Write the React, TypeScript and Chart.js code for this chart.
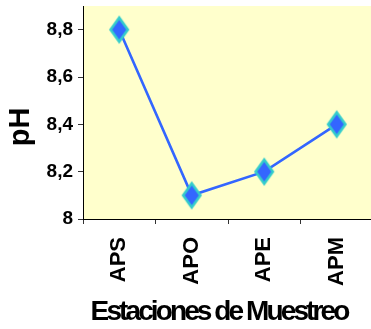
import React, { useEffect, useRef } from "react";
import { Chart, registerables } from "chart.js";

Chart.register(...registerables);

// Sampling stations and measured pH
const stations = ["APS", "APO", "APE", "APM"];
const phValues = [8.8, 8.1, 8.2, 8.4];
const phTicks = [8, 8.2, 8.4, 8.6, 8.8];
const phMin = 8;
const phMax = 8.9;
const xTitle = "Estaciones de Muestreo";
const yTitle = "pH";

const FONT = '"Liberation Sans", Arial, sans-serif';

function makeDiamond(): HTMLCanvasElement {
  const c = document.createElement("canvas");
  c.width = 24;
  c.height = 30;
  const g = c.getContext("2d")!;
  const cx = 12, cy = 15, hw = 8.6, hh = 12;
  g.beginPath();
  g.moveTo(cx, cy - hh);
  g.lineTo(cx + hw, cy);
  g.lineTo(cx, cy + hh);
  g.lineTo(cx - hw, cy);
  g.closePath();
  g.fillStyle = "#3366FF";
  g.fill();
  g.lineWidth = 2.6;
  g.lineJoin = "miter";
  g.strokeStyle = "#33CCCC";
  g.stroke();
  return c;
}

const backgroundPlugin = {
  id: "plotBackground",
  beforeDraw(chart: any) {
    const { ctx, chartArea, width, height } = chart;
    ctx.save();
    ctx.fillStyle = "#FFFFFF";
    ctx.fillRect(0, 0, width, height);
    ctx.fillStyle = "#FFFFCC";
    ctx.fillRect(chartArea.left, chartArea.top, chartArea.right - chartArea.left, chartArea.bottom - chartArea.top);
    ctx.restore();
  },
};

const titlesPlugin = {
  id: "axisTitles",
  afterDraw(chart: any) {
    const { ctx } = chart;
    ctx.save();
    ctx.fillStyle = "#000000";
    ctx.font = `bold 28px ${FONT}`;
    (ctx as any).letterSpacing = "-2.9px";
    ctx.textAlign = "center";
    ctx.textBaseline = "alphabetic";
    ctx.fillText(xTitle, 219, 320);
    (ctx as any).letterSpacing = "0px";
    ctx.font = `bold 29px ${FONT}`;
    ctx.translate(29, 127);
    ctx.rotate(-Math.PI / 2);
    ctx.fillText(yTitle, 0, 0);
    ctx.restore();
  },
};

export default function App() {
  const ref = useRef<HTMLCanvasElement | null>(null);

  useEffect(() => {
    if (!ref.current) return;
    const diamond = makeDiamond();
    const chart = new Chart(ref.current, {
      type: "line",
      data: {
        labels: stations,
        datasets: [
          {
            data: phValues,
            borderColor: "#3366FF",
            borderWidth: 2.6,
            pointStyle: diamond as any,
            pointRadius: 12,
            tension: 0,
          },
        ],
      },
      options: {
        responsive: false,
        animation: false,
        events: [],
        layout: { autoPadding: false, padding: { top: 6, right: 2, left: 0, bottom: 0 } },
        plugins: {
          legend: { display: false },
          tooltip: { enabled: false },
          title: { display: false },
        },
        scales: {
          x: {
            offset: true,
            grid: {
              offset: true,
              drawOnChartArea: false,
              drawTicks: true,
              tickLength: 5,
              tickColor: "#333333",
            },
            border: { display: true, color: "#000000", width: 1 },
            ticks: {
              autoSkip: false,
              maxRotation: 90,
              minRotation: 90,
              padding: 13,
              color: "#000000",
              font: { family: FONT, size: 22, weight: "bold" },
            },
            afterFit(scale: any) {
              scale.height = 110;
              scale.paddingLeft = 0;
              scale.paddingRight = 0;
            },
          },
          y: {
            min: phMin,
            max: phMax,
            grid: {
              drawOnChartArea: false,
              drawTicks: true,
              tickLength: 5,
              tickColor: "#333333",
            },
            border: { display: true, color: "#000000", width: 1 },
            afterBuildTicks(scale: any) {
              scale.ticks = phTicks.map((v) => ({ value: v }));
            },
            ticks: {
              padding: 5,
              color: "#000000",
              font: { family: FONT, size: 19, weight: "bold" },
              callback: (v: any) => {
                const n = Number(v);
                return Number.isInteger(n) ? String(n) : n.toFixed(1).replace(".", ",");
              },
            },
            afterFit(scale: any) {
              scale.width = 83;
              scale.paddingTop = 0;
              scale.paddingBottom = 0;
            },
          },
        },
      },
      plugins: [backgroundPlugin, titlesPlugin],
    });
    return () => chart.destroy();
  }, []);

  return (
    <div
      style={{
        position: "fixed",
        left: 0,
        top: 0,
        width: 371,
        height: 329,
        overflow: "hidden",
        background: "#FFFFFF",
      }}
    >
      <canvas ref={ref} width={375} height={329} style={{ display: "block" }} />
    </div>
  );
}
